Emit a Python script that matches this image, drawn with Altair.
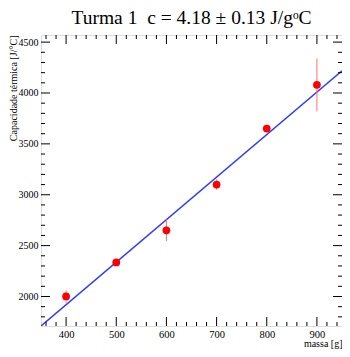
import altair as alt
import pandas as pd

massa = [400, 500, 600, 700, 800, 900]
capacidade = [2000, 2335, 2650, 3100, 3650, 4080]
erro = [60, 15, 105, 50, 30, 260]

fit_slope = 4.18
fit_intercept = 247
fit_x = [350, 950]

x_major = [400, 500, 600, 700, 800, 900]
x_minor = [360, 380, 420, 440, 460, 480, 520, 540, 560, 580, 620, 640, 660, 680,
           720, 740, 760, 780, 820, 840, 860, 880, 920, 940]
y_major = [2000, 2500, 3000, 3500, 4000, 4500]
y_minor = [1800, 1900, 2100, 2200, 2300, 2400, 2600, 2700, 2800, 2900, 3100, 3200,
           3300, 3400, 3600, 3700, 3800, 3900, 4100, 4200, 4300, 4400]

W, H = 301, 291
XDOM = [350, 950]
YDOM = [1710, 4570]
FONT = "Liberation Serif"

pts = pd.DataFrame({"x": massa, "y": capacidade,
                    "lo": [c - e for c, e in zip(capacidade, erro)],
                    "hi": [c + e for c, e in zip(capacidade, erro)]})
fit = pd.DataFrame({"x": fit_x, "y": [fit_slope * v + fit_intercept for v in fit_x]})

xs = alt.Scale(domain=XDOM, nice=False, zero=False)
ys = alt.Scale(domain=YDOM, nice=False, zero=False)

xaxis = alt.Axis(values=x_major, ticks=False, domain=False, grid=False, format="d",
                 labelFont=FONT, labelFontSize=10.5, labelColor="black", labelPadding=3,
                 title="massa [g]", titleFont=FONT, titleFontSize=10, titleFontWeight="normal",
                 titleAnchor="end", titleAlign="right", titlePadding=-1, titleColor="black")
yaxis = alt.Axis(values=y_major, ticks=False, domain=False, grid=False, format="d",
                 labelFont=FONT, labelFontSize=10, labelColor="black", labelPadding=3,
                 title="Capacidade térmica [J/°C]", titleFont=FONT, titleFontSize=10,
                 titleFontWeight="normal", titleAnchor="end", titlePadding=0, titleColor="black")

line = alt.Chart(fit).mark_line(color="#2f3cff", strokeWidth=1.5, clip=True).encode(
    x=alt.X("x:Q", scale=xs, axis=xaxis),
    y=alt.Y("y:Q", scale=ys, axis=yaxis),
)
err = alt.Chart(pts).mark_rule(color="#ff7070", strokeWidth=1).encode(
    x=alt.X("x:Q", scale=xs), y=alt.Y("lo:Q", scale=ys), y2="hi:Q")
dots = alt.Chart(pts).mark_circle(color="#ff0000", size=60, opacity=1).encode(
    x=alt.X("x:Q", scale=xs), y=alt.Y("y:Q", scale=ys))

def xticks(vals, L):
    d = pd.DataFrame({"t": vals})
    b = alt.Chart(d).mark_rule(color="black", strokeWidth=1).encode(
        x=alt.X("t:Q", scale=xs), y=alt.value(H), y2=alt.value(H - L))
    t = alt.Chart(d).mark_rule(color="black", strokeWidth=1).encode(
        x=alt.X("t:Q", scale=xs), y=alt.value(0), y2=alt.value(L))
    return [b, t]

def yticks(vals, L):
    d = pd.DataFrame({"t": vals})
    l = alt.Chart(d).mark_rule(color="black", strokeWidth=1).encode(
        y=alt.Y("t:Q", scale=ys), x=alt.value(0), x2=alt.value(L))
    r = alt.Chart(d).mark_rule(color="black", strokeWidth=1).encode(
        y=alt.Y("t:Q", scale=ys), x=alt.value(W), x2=alt.value(W - L))
    return [l, r]

layers = [line] + xticks(x_major, 9) + xticks(x_minor, 4) + yticks(y_major, 9) + yticks(y_minor, 4) + [err, dots]

chart = alt.layer(*layers).properties(
    width=W, height=H,
    title=alt.TitleParams("Turma 1\u00a0\u00a0c = 4.18 ± 0.13 J/g\u1d52C", font=FONT, fontSize=19.5,
                          fontWeight="normal", color="black", offset=6),
    autosize=alt.AutoSizeParams(type="none"),
    padding={"left": 33, "top": 27, "right": 0, "bottom": 24},
).configure_view(stroke="black", strokeWidth=1).configure(background="white")

chart.save("out.html", embed_options={"renderer": "svg", "actions": False})
